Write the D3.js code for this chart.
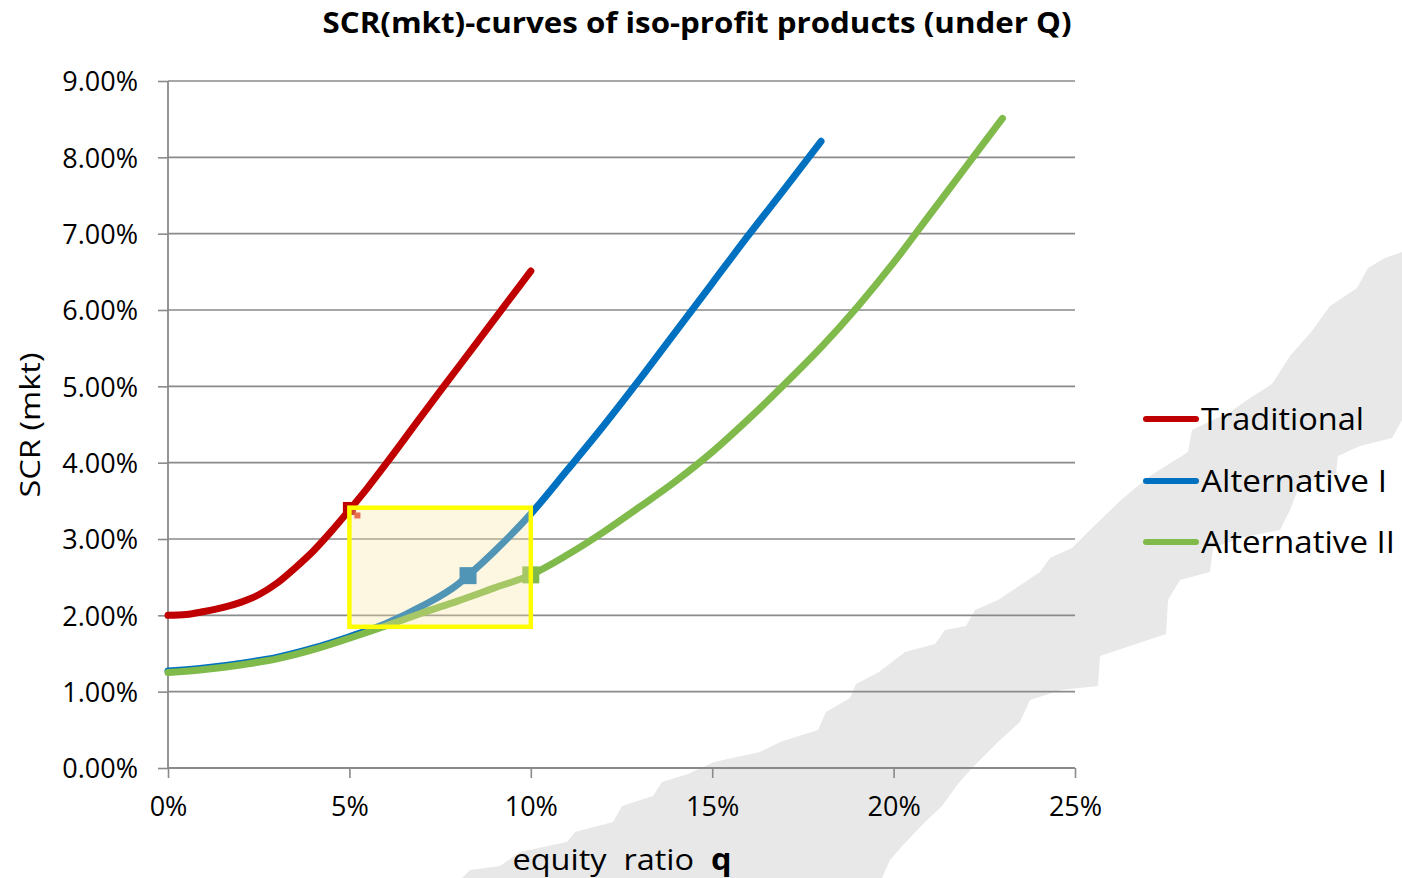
<!DOCTYPE html>
<html>
<head>
<meta charset="utf-8">
<script src="https://cdn.jsdelivr.net/npm/d3@7"></script>
<style>
  html, body { margin: 0; padding: 0; background: #ffffff; }
  svg { display: block; }
  text { font-family: "Open Sans", "DejaVu Sans", sans-serif; fill: #000; }
</style>
</head>
<body>
<svg id="chart" width="1402" height="878"></svg>
<script>
// ---- Data (equity ratio q in %, SCR(mkt) in %) ----
const seriesNames = ["Traditional", "Alternative I", "Alternative II"];
const seriesColors = ["#c00000", "#0070c0", "#7fba4b"];

const qTraditional   = [0, 0.5, 1, 1.5, 2, 2.5, 3, 3.5, 4, 4.5, 5, 5.5, 6, 7, 8, 9, 10];
const scrTraditional = [2.00, 2.01, 2.05, 2.10, 2.17, 2.27, 2.42, 2.62, 2.84, 3.10, 3.38, 3.67, 3.98, 4.62, 5.25, 5.88, 6.51];

const qAltI   = [0, 1, 2, 3, 4, 5, 6, 7, 8, 8.27, 9, 10, 11, 12, 13, 14, 15, 16, 17, 18];
const scrAltI = [1.27, 1.31, 1.37, 1.45, 1.57, 1.72, 1.89, 2.12, 2.41, 2.52, 2.84, 3.33, 3.90, 4.48, 5.09, 5.72, 6.35, 6.98, 7.59, 8.21];

const qAltII   = [0, 1, 2, 3, 4, 5, 6, 7, 8, 9, 10, 11, 12, 13, 14, 15, 16, 17, 18, 19, 20, 21, 22, 23];
const scrAltII = [1.25, 1.29, 1.35, 1.43, 1.55, 1.70, 1.86, 2.03, 2.19, 2.36, 2.53, 2.79, 3.09, 3.42, 3.76, 4.14, 4.57, 5.03, 5.51, 6.04, 6.62, 7.25, 7.88, 8.51];

// Highlighted iso-profit points (one per product)
const markerQ   = [5, 8.27, 10];
const markerScr = [3.40, 2.52, 2.53];

// Highlight window: q range and SCR range
const windowQ   = [5, 10];
const windowScr = [1.85, 3.41];

const xTicks = [0, 5, 10, 15, 20, 25];
const xTickLabels = ["0%", "5%", "10%", "15%", "20%", "25%"];
const yTicks = [0, 1, 2, 3, 4, 5, 6, 7, 8, 9];
const yTickLabels = ["0.00%", "1.00%", "2.00%", "3.00%", "4.00%", "5.00%", "6.00%", "7.00%", "8.00%", "9.00%"];

const titleText = "SCR(mkt)-curves of iso-profit products (under Q)";
const yTitle = "SCR (mkt)";

// ---- Layout ----
const W = 1402, H = 878;
const plot = { left: 168, right: 1075, top: 81, bottom: 768 };

const svg = d3.select("#chart");
const x = d3.scaleLinear().domain([0, 25]).range([plot.left, plot.right]);
const y = d3.scaleLinear().domain([0, 9]).range([plot.bottom, plot.top]);

// ---- Light grey backdrop band (decorative, page coordinates) ----
const backdrop = [
  [462,878],[470,870],[500,866],[520,852],[567,842],[575,832],[613,822],[622,806],[653,796],[662,782],
  [688,774],[714,762],[760,752],[780,742],[818,730],[826,712],[850,698],[856,684],[879,672],[905,652],
  [935,644],[945,630],[966,626],[975,610],[998,600],[1022,584],[1040,572],[1050,558],[1072,548],
  [1090,530],[1121,500],[1150,476],[1188,452],[1192,430],[1230,412],[1250,398],[1272,384],[1290,356],
  [1311,332],[1330,306],[1357,288],[1368,268],[1385,258],[1402,252],
  [1402,420],[1392,438],[1360,446],[1338,456],[1336,474],[1300,484],[1290,510],[1280,530],[1240,538],
  [1213,548],[1210,572],[1180,580],[1168,600],[1166,634],[1130,646],[1100,656],[1098,686],[1061,690],
  [1030,700],[1020,722],[998,742],[972,768],[958,784],[942,806],[925,822],[904,844],[890,860],[882,878]
];
svg.append("path")
  .attr("d", d3.line().curve(d3.curveLinearClosed)(backdrop))
  .attr("fill", "#e8e8e8")
  .attr("stroke", "none");

// ---- Gridlines ----
const gridColor = "#8a8a8a";
svg.append("g").selectAll("line")
  .data(yTicks.filter(t => t > 0))
  .join("line")
  .attr("x1", plot.left).attr("x2", plot.right)
  .attr("y1", d => y(d)).attr("y2", d => y(d))
  .attr("stroke", gridColor).attr("stroke-width", 1.6);

// ---- Axes ----
const yAxis = d3.axisLeft(y).tickValues(yTicks).tickSize(10).tickFormat((d, i) => yTickLabels[i]).tickPadding(20);
const gy = svg.append("g").attr("transform", `translate(${plot.left},0)`).call(yAxis);
gy.select(".domain").attr("stroke", gridColor).attr("stroke-width", 1.8)
  .attr("d", `M0,${plot.top}V${plot.bottom}`);
gy.selectAll(".tick line").attr("stroke", gridColor).attr("stroke-width", 1.6);
gy.selectAll(".tick text")
  .attr("font-family", "'Open Sans', sans-serif")
  .attr("font-size", 27).attr("fill", "#000")
  .attr("dy", "0.36em");

const xAxis = d3.axisBottom(x).tickValues(xTicks).tickSize(10).tickFormat((d, i) => xTickLabels[i]).tickPadding(14);
const gx = svg.append("g").attr("transform", `translate(0,${plot.bottom})`).call(xAxis);
gx.select(".domain").attr("stroke", gridColor).attr("stroke-width", 1.8)
  .attr("d", `M${plot.left},0H${plot.right}`);
gx.selectAll(".tick line").attr("stroke", gridColor).attr("stroke-width", 1.6);
gx.selectAll(".tick text")
  .attr("font-family", "'Open Sans', sans-serif")
  .attr("font-size", 27).attr("fill", "#000")
  .attr("dy", "0.9em");

// ---- Curves ----
const series = [
  { name: seriesNames[0], color: seriesColors[0], pts: qTraditional.map((q, i) => [q, scrTraditional[i]]) },
  { name: seriesNames[1], color: seriesColors[1], pts: qAltI.map((q, i) => [q, scrAltI[i]]) },
  { name: seriesNames[2], color: seriesColors[2], pts: qAltII.map((q, i) => [q, scrAltII[i]]) }
];
const line = d3.line()
  .x(d => x(d[0])).y(d => y(d[1]))
  .curve(d3.curveMonotoneX);

// Alternative I underneath, then Alternative II, then Traditional on top
const drawOrder = [series[1], series[2], series[0]];
svg.append("g").selectAll("path")
  .data(drawOrder)
  .join("path")
  .attr("d", d => line(d.pts))
  .attr("fill", "none")
  .attr("stroke", d => d.color)
  .attr("stroke-width", 7)
  .attr("stroke-linecap", "round")
  .attr("stroke-linejoin", "round");

// ---- Point markers ----
const markerSizes = [13, 17, 17];
svg.append("g").selectAll("rect")
  .data(markerQ.map((q, i) => ({ q, s: markerScr[i], size: markerSizes[i], color: seriesColors[i] })))
  .join("rect")
  .attr("x", d => x(d.q) - d.size / 2)
  .attr("y", d => y(d.s) - d.size / 2)
  .attr("width", d => d.size)
  .attr("height", d => d.size)
  .attr("fill", d => d.color);
// small companion square of the Traditional marker
svg.append("rect")
  .attr("x", x(markerQ[0]) + 5).attr("y", y(markerScr[0]) + 4)
  .attr("width", 6).attr("height", 6)
  .attr("fill", "#e03a2a");

// ---- Highlight window ----
svg.append("rect")
  .attr("x", x(windowQ[0])).attr("y", y(windowScr[1]))
  .attr("width", x(windowQ[1]) - x(windowQ[0]))
  .attr("height", y(windowScr[0]) - y(windowScr[1]))
  .attr("fill", "#f9e4a0").attr("fill-opacity", 0.32)
  .attr("stroke", "#ffff00").attr("stroke-width", 4.5);

// ---- Title ----
svg.append("text")
  .attr("x", 697).attr("y", 33)
  .attr("text-anchor", "middle")
  .attr("font-size", 28).attr("font-weight", "bold")
  .attr("textLength", 749).attr("lengthAdjust", "spacingAndGlyphs")
  .text(titleText);

// ---- Axis titles ----
const xTitle = svg.append("text")
  .attr("x", 622).attr("y", 870)
  .attr("text-anchor", "middle")
  .attr("font-size", 30)
  .attr("textLength", 219).attr("lengthAdjust", "spacingAndGlyphs");
xTitle.append("tspan").text("equity\u00a0\u00a0ratio\u00a0\u00a0");
xTitle.append("tspan").attr("font-weight", "bold").text("q");

svg.append("text")
  .attr("transform", `translate(40,${425}) rotate(-90)`)
  .attr("text-anchor", "middle")
  .attr("font-size", 27)
  .attr("textLength", 145).attr("lengthAdjust", "spacingAndGlyphs")
  .text(yTitle);

// ---- Legend ----
const legendY = [419, 481, 542];
const legendW = [163, 186, 194];
const legend = svg.append("g").selectAll("g")
  .data(series)
  .join("g")
  .attr("transform", (d, i) => `translate(0,${legendY[i]})`);
legend.append("line")
  .attr("x1", 1146).attr("x2", 1196)
  .attr("stroke", d => d.color)
  .attr("stroke-width", 6)
  .attr("stroke-linecap", "round");
legend.append("text")
  .attr("x", 1201).attr("y", 11)
  .attr("font-size", 31)
  .attr("textLength", (d, i) => legendW[i]).attr("lengthAdjust", "spacingAndGlyphs")
  .text(d => d.name);
</script>
</body>
</html>
